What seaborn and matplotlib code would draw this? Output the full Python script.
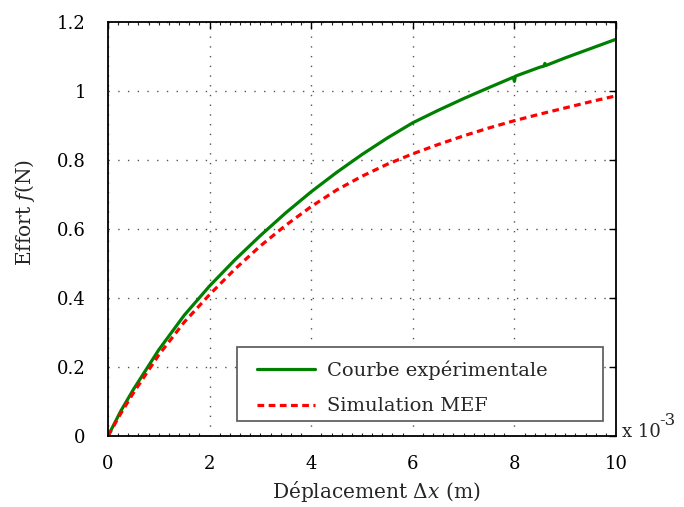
import matplotlib
matplotlib.use("Agg")
import matplotlib.pyplot as plt
import seaborn as sns
import pandas as pd
from matplotlib.ticker import MultipleLocator, FixedLocator
from matplotlib.patches import Rectangle

# Data (x in 1e-3 m, force in N)
x_vals = [0, 0.25, 0.5, 1, 1.5, 2, 2.5, 3, 3.5, 4, 4.5, 5, 5.5, 6, 6.5, 7, 7.5,
          7.98, 8.0, 8.02, 8.5, 8.58, 8.6, 8.62, 9, 9.5, 10]
exp_vals = [0, 0.072, 0.135, 0.25, 0.35, 0.435, 0.511, 0.581, 0.647, 0.708,
            0.764, 0.816, 0.864, 0.908, 0.944, 0.978, 1.010, 1.040, 1.028,
            1.043, 1.069, 1.072, 1.080, 1.074, 1.096, 1.123, 1.150]
x_sim = [0, 0.25, 0.5, 1, 1.5, 2, 2.5, 3, 3.5, 4, 4.5, 5, 5.5, 6, 6.5, 7, 7.5,
         8, 8.5, 9, 9.5, 10]
sim_vals = [0, 0.065, 0.125, 0.235, 0.33, 0.41, 0.484, 0.551, 0.611, 0.665,
            0.713, 0.753, 0.788, 0.818, 0.845, 0.870, 0.893, 0.914, 0.933,
            0.951, 0.969, 0.986]
series_names = ["Courbe expérimentale", "Simulation MEF"]
x_ticks = [0, 2, 4, 6, 8, 10]
y_ticks = [0, 0.2, 0.4, 0.6, 0.8, 1.0, 1.2]
y_ticklabels = ["0", "0.2", "0.4", "0.6", "0.8", "1", "1.2"]

df = pd.concat([
    pd.DataFrame({"x": x_vals, "y": exp_vals, "serie": series_names[0]}),
    pd.DataFrame({"x": x_sim, "y": sim_vals, "serie": series_names[1]}),
], ignore_index=True)

sns.set_style("white")
plt.rcParams["font.family"] = ["DejaVu Serif"]
plt.rcParams["mathtext.fontset"] = "dejavuserif"

fig = plt.figure(figsize=(6.84, 5.07), dpi=100)
ax = fig.add_axes([0.1579, 0.140, 0.7427, 0.8166])

sns.lineplot(data=df, x="x", y="y", hue="serie", style="serie",
             palette={series_names[0]: "#008000", series_names[1]: "#ff0000"},
             dashes={series_names[0]: "", series_names[1]: (2.1, 1.4)},
             linewidth=2.3, ax=ax, estimator=None, sort=False)

ax.set_xlim(0, 10)
ax.set_ylim(0, 1.2)
ax.xaxis.set_major_locator(FixedLocator(x_ticks))
ax.set_xticklabels([str(t) for t in x_ticks])
ax.yaxis.set_major_locator(FixedLocator(y_ticks))
ax.set_yticklabels(y_ticklabels)
ax.xaxis.set_minor_locator(MultipleLocator(0.2))

ax.grid(True, which="major", color="#555555", linestyle=(0, (1, 6)), linewidth=1.0)
ax.tick_params(which="major", direction="in", length=5, width=1, top=True, right=True,
               labelsize=13, colors="black")
ax.tick_params(axis="x", which="major", pad=13.5)
ax.tick_params(axis="y", which="major", pad=16)
ax.tick_params(which="minor", direction="in", length=2, width=0.8, top=True, bottom=True)
for s in ax.spines.values():
    s.set_color("black")
    s.set_linewidth(1.3)

ax.set_xlabel("Déplacement $\\Delta x$ (m)", fontsize=14.5)
ax.xaxis.label.set_va("center")
ax.xaxis.set_label_coords(0.528, -0.135)
ax.set_ylabel("Effort $f$(N)", fontsize=14.5)
ax.yaxis.label.set_va("center")
ax.yaxis.set_label_coords(-0.163, 0.539)

ax.text(1.012, 0.01, "x 10", transform=ax.transAxes, fontsize=13,
        ha="left", va="center")
ax.text(1.0855, 0.038, "-3", transform=ax.transAxes, fontsize=12,
        ha="left", va="center")

# legend frame drawn separately so inner padding can match
ax.add_patch(Rectangle((0.254, 0.036), 0.720, 0.179, transform=ax.transAxes,
                       facecolor="white", edgecolor="#555555", linewidth=1.2,
                       zorder=4.9))
leg = ax.legend(loc="lower left", bbox_to_anchor=(0.254 + 8 / 508, 0.0215, 0.70, 0.18),
                fontsize=14, frameon=False,
                handlelength=3.0, borderpad=0.6, labelspacing=0.9,
                handletextpad=0.6, borderaxespad=0)
leg.set_zorder(5)
leg.set_title(None)

fig.savefig("out.png", dpi=100)
